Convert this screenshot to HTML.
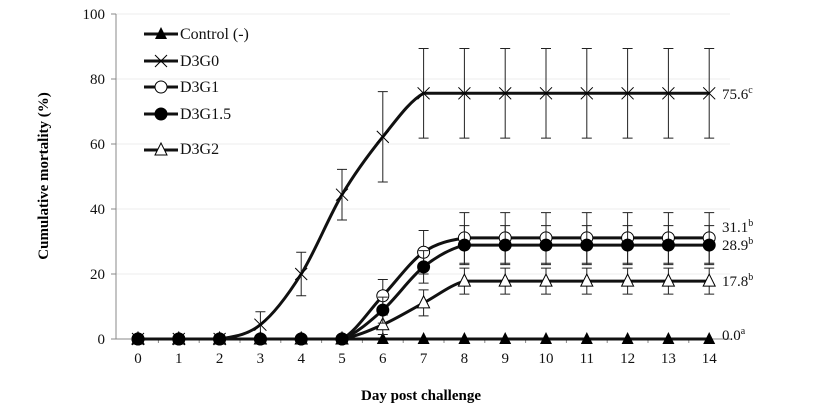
<!DOCTYPE html>
<html><head><meta charset="utf-8"><style>
body{margin:0;background:#fff}
svg{display:block;font-family:"Liberation Serif",serif}
</style></head><body>
<svg id="s" width="820" height="410" viewBox="0 0 820 410">
<g stroke="#eee" stroke-width="1">
<line x1="116" y1="14" x2="730" y2="14"/><line x1="116" y1="79" x2="730" y2="79"/><line x1="116" y1="144" x2="730" y2="144"/><line x1="116" y1="209" x2="730" y2="209"/><line x1="116" y1="274" x2="730" y2="274"/>
</g>
<g stroke="#888" stroke-width="1">
<line x1="116" y1="14" x2="116" y2="339"/><line x1="116" y1="339" x2="730" y2="339"/>
<line x1="111" y1="14" x2="116" y2="14"/><line x1="111" y1="79" x2="116" y2="79"/><line x1="111" y1="144" x2="116" y2="144"/><line x1="111" y1="209" x2="116" y2="209"/><line x1="111" y1="274" x2="116" y2="274"/><line x1="111" y1="339" x2="116" y2="339"/>
</g>
<g id="ticks" stroke="#888"></g>
<g font-size="15" text-anchor="end" fill="#111">
<text x="105" y="19">100</text><text x="105" y="84">80</text><text x="105" y="149">60</text><text x="105" y="214">40</text><text x="105" y="279">20</text><text x="105" y="344">0</text>
</g>
<g font-size="15" text-anchor="middle" fill="#111">
<text x="138" y="363">0</text><text x="178.8" y="363">1</text><text x="219.6" y="363">2</text><text x="260.4" y="363">3</text><text x="301.2" y="363">4</text><text x="342" y="363">5</text><text x="382.8" y="363">6</text><text x="423.6" y="363">7</text><text x="464.4" y="363">8</text><text x="505.2" y="363">9</text><text x="546" y="363">10</text><text x="586.8" y="363">11</text><text x="627.6" y="363">12</text><text x="668.4" y="363">13</text><text x="709.2" y="363">14</text>
</g>
<text x="421" y="400" font-size="15" font-weight="bold" text-anchor="middle">Day post challenge</text>
<text transform="translate(48,176) rotate(-90)" font-size="15" font-weight="bold" text-anchor="middle">Cumulative mortality (%)</text>
<g id="data"></g>
<g font-size="15" fill="#111">
<text x="722" y="99">75.6<tspan font-size="10" dy="-6">c</tspan></text>
<text x="722" y="232">31.1<tspan font-size="10" dy="-6">b</tspan></text>
<text x="722" y="250">28.9<tspan font-size="10" dy="-6">b</tspan></text>
<text x="722" y="286">17.8<tspan font-size="10" dy="-6">b</tspan></text>
<text x="722" y="340">0.0<tspan font-size="10" dy="-6">a</tspan></text>
</g>
<g font-size="16" fill="#111">
<text x="180" y="39">Control (-)</text>
<text x="180" y="66">D3G0</text>
<text x="180" y="92">D3G1</text>
<text x="180" y="119">D3G1.5</text>
<text x="180" y="154">D3G2</text>
</g>
<g id="leg"></g>
</svg>
<script>
var NS="http://www.w3.org/2000/svg";
function el(p,t,a){var e=document.createElementNS(NS,t);for(var k in a)e.setAttribute(k,a[k]);p.appendChild(e);return e;}
var X=d=>138+40.8*d, Y=v=>339-3.25*v;
var tk=document.getElementById('ticks');
for(var i=0;i<=14;i++){el(tk,'line',{x1:X(i),y1:339,x2:X(i),y2:344});if(i<14)el(tk,'line',{x1:X(i+.5),y1:339,x2:X(i+.5),y2:343});}
var D=document.getElementById('data');
var S=[
{n:'ctl',v:[0,0,0,0,0,0,0,0,0,0,0,0,0,0,0],e:[]},
{n:'g0',v:[0,0,0,4.4,20,44.4,62.2,75.6,75.6,75.6,75.6,75.6,75.6,75.6,75.6],e:[0,0,0,4,6.7,7.8,13.9,13.8,13.8,13.8,13.8,13.8,13.8,13.8,13.8]},
{n:'g2',v:[0,0,0,0,0,0,4.4,11.1,17.8,17.8,17.8,17.8,17.8,17.8,17.8],e:[0,0,0,0,0,0,3,4,4,4,4,4,4,4,4]},
{n:'g1',v:[0,0,0,0,0,0,13.3,26.7,31.1,31.1,31.1,31.1,31.1,31.1,31.1],e:[0,0,0,0,0,0,5,6.7,7.8,7.8,7.8,7.8,7.8,7.8,7.8]},
{n:'g15',v:[0,0,0,0,0,0,8.9,22.2,28.9,28.9,28.9,28.9,28.9,28.9,28.9],e:[0,0,0,0,0,0,4,5,6,6,6,6,6,6,6]}];
function marker(g,n,x,y){
 if(n=='ctl')el(g,'polygon',{points:(x-6)+','+(y+5)+' '+(x+6)+','+(y+5)+' '+x+','+(y-7),fill:'#000'});
 else if(n=='g2')el(g,'polygon',{points:(x-6)+','+(y+5)+' '+(x+6)+','+(y+5)+' '+x+','+(y-7),fill:'#fff',stroke:'#000','stroke-width':1});
 else if(n=='g15')el(g,'circle',{cx:x,cy:y,r:6.5,fill:'#000'});
 else if(n=='g1')el(g,'circle',{cx:x,cy:y,r:6,fill:'#fff',stroke:'#000','stroke-width':1});
 else if(n=='g0'){el(g,'path',{d:'M'+(x-6)+' '+(y-6)+'L'+(x+6)+' '+(y+6)+'M'+(x-6)+' '+(y+6)+'L'+(x+6)+' '+(y-6),stroke:'#000','stroke-width':1});}
}
function cl(c,a,b){var lo=Math.min(a,b),hi=Math.max(a,b);return Math.max(lo,Math.min(hi,c));}
S.forEach(function(s){
 var d='';s.v.forEach(function(v,i){
  if(i==0)d='M'+X(0)+' '+Y(v);
  else{var p0=s.v[Math.max(i-2,0)],p1=s.v[i-1],p2=v,p3=s.v[Math.min(i+1,14)];
   var c1=cl(p1+(p2-p0)/6,p1,p2),c2=cl(p2-(p3-p1)/6,p1,p2);
   d+=' C'+(X(i-1)+40.8/3)+' '+Y(c1)+' '+(X(i)-40.8/3)+' '+Y(c2)+' '+X(i)+' '+Y(v);}
 });
 el(D,'path',{d:d,fill:'none',stroke:'#111','stroke-width':3});
});
S.forEach(function(s){
 s.v.forEach(function(v,i){var e=s.e[i]||0;if(e>0){var x=X(i);
  el(D,'path',{d:'M'+x+' '+Y(v-e)+'L'+x+' '+Y(v+e)+'M'+(x-5)+' '+Y(v-e)+'L'+(x+5)+' '+Y(v-e)+'M'+(x-5)+' '+Y(v+e)+'L'+(x+5)+' '+Y(v+e),stroke:'#222','stroke-width':1,fill:'none'});}
  marker(D,s.n,X(i),Y(v));});
});
var L=document.getElementById('leg');var ly={ctl:34,g0:61,g1:87,g15:114,g2:150};
for(var n in ly){el(L,'line',{x1:144,y1:ly[n],x2:178,y2:ly[n],stroke:'#111','stroke-width':3});marker(L,n,161,ly[n]);}
</script>
</body></html>
